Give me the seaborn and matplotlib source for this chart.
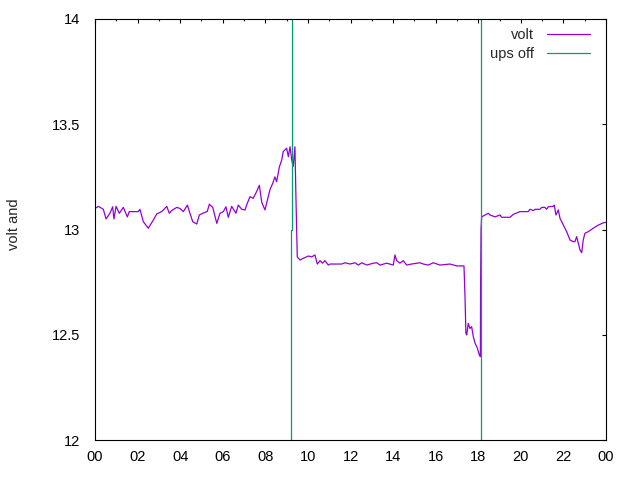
import numpy as np
import pandas as pd
import matplotlib
matplotlib.use("Agg")
import matplotlib.pyplot as plt
from matplotlib.lines import Line2D
from matplotlib.ticker import MultipleLocator, FuncFormatter
import seaborn as sns

# volt readings over the day (hour of day, volts)
hours = [0.00, 0.16, 0.39, 0.52, 0.70, 0.83, 0.89, 0.99, 1.14, 1.33, 1.52, 1.61,
         2.03, 2.11, 2.27, 2.50, 2.74, 2.90, 3.13, 3.24, 3.37, 3.49, 3.60, 3.84,
         3.99, 4.15, 4.34, 4.46, 4.59, 4.78, 4.90, 5.17, 5.27, 5.37, 5.53, 5.72,
         5.87, 6.03, 6.15, 6.26, 6.42, 6.62, 6.73, 6.89, 7.05, 7.12, 7.28, 7.43,
         7.59, 7.72, 7.83, 7.98, 8.06, 8.22, 8.35, 8.45, 8.53, 8.66, 8.77, 8.84,
         9.00, 9.08, 9.16, 9.24, 9.31, 9.39, 9.44, 9.50, 9.63, 9.78, 10.02, 10.18,
         10.33, 10.44, 10.57, 10.69, 10.80, 10.96, 11.04, 11.59, 11.74, 11.98, 12.21, 12.37,
         12.53, 12.76, 13.07, 13.23, 13.39, 13.70, 14.01, 14.09, 14.17, 14.32, 14.48, 14.64,
         14.87, 15.26, 15.42, 15.65, 15.89, 16.20, 16.67, 16.99, 17.33, 17.38, 17.42, 17.46,
         17.53, 17.61, 17.69, 17.77, 17.85, 17.96, 18.05, 18.10, 18.11, 18.13, 18.16, 18.47,
         18.55, 18.79, 19.02, 19.10, 19.49, 19.65, 19.96, 20.35, 20.43, 20.59, 20.67, 20.90,
         20.98, 21.13, 21.21, 21.29, 21.52, 21.57, 21.65, 21.76, 21.84, 22.00, 22.15, 22.31,
         22.46, 22.54, 22.62, 22.70, 22.78, 22.86, 22.93, 23.01, 23.17, 23.40, 23.64, 23.88,
         24.00]
volts = [13.100, 13.110, 13.096, 13.050, 13.077, 13.108, 13.050, 13.110, 13.077, 13.105, 13.060, 13.085,
         13.085, 13.096, 13.037, 13.006, 13.045, 13.074, 13.085, 13.096, 13.110, 13.077, 13.090, 13.105,
         13.100, 13.085, 13.116, 13.077, 13.037, 13.026, 13.069, 13.082, 13.085, 13.120, 13.105, 13.029,
         13.077, 13.085, 13.108, 13.058, 13.110, 13.077, 13.116, 13.096, 13.093, 13.116, 13.156, 13.148,
         13.180, 13.210, 13.130, 13.093, 13.124, 13.190, 13.220, 13.250, 13.227, 13.298, 13.330, 13.370,
         13.386, 13.346, 13.393, 13.330, 13.300, 13.393, 13.140, 12.870, 12.855, 12.863, 12.874, 12.870,
         12.879, 12.836, 12.852, 12.840, 12.852, 12.831, 12.836, 12.836, 12.842, 12.836, 12.842, 12.831,
         12.842, 12.831, 12.840, 12.842, 12.831, 12.840, 12.831, 12.879, 12.852, 12.840, 12.852, 12.831,
         12.836, 12.842, 12.836, 12.831, 12.842, 12.831, 12.836, 12.827, 12.827, 12.673, 12.507, 12.499,
         12.554, 12.530, 12.538, 12.490, 12.460, 12.436, 12.404, 12.396, 12.730, 13.000, 13.060, 13.077,
         13.069, 13.060, 13.069, 13.058, 13.058, 13.072, 13.085, 13.085, 13.096, 13.090, 13.096, 13.096,
         13.105, 13.105, 13.096, 13.108, 13.110, 13.116, 13.069, 13.093, 13.053, 13.021, 12.990, 12.950,
         12.942, 12.942, 12.966, 12.934, 12.903, 12.890, 12.950, 12.982, 12.990, 13.006, 13.021, 13.032,
         13.034]

# ups off markers (two events)
ups_hours = [9.22, 9.22, 9.25, 9.25, 18.11, 18.11, 18.11]
ups_volts = [11.0, 13.0, 13.0, 15.0, 15.0, 13.0, 11.0]
ups_event = [1, 1, 1, 1, 2, 2, 2]

volt_color = "#9400D3"
ups_color = "#009E73"

sns.set_style("white")
plt.rcParams["font.family"] = ["Liberation Sans", "DejaVu Sans"]

volt_df = pd.DataFrame({"hour": hours, "volt": volts})
ups_df = pd.DataFrame({"hour": ups_hours, "volt": ups_volts, "event": ups_event})

fig = plt.figure(figsize=(6.4, 4.8), dpi=100)
ax = fig.add_axes([95 / 640, 40 / 480, 511 / 640, 421 / 480])

sns.lineplot(data=volt_df, x="hour", y="volt", estimator=None, sort=False,
             color=volt_color, linewidth=0.9, ax=ax, legend=False)
sns.lineplot(data=ups_df, x="hour", y="volt", units="event", estimator=None, sort=False,
             color=ups_color, linewidth=0.9, ax=ax, legend=False)

ax.set_xlim(0, 24)
ax.set_ylim(12, 14)
ax.xaxis.set_major_locator(MultipleLocator(2))
ax.xaxis.set_minor_locator(MultipleLocator(1))
ax.xaxis.set_major_formatter(FuncFormatter(lambda v, p: "%02d" % (int(round(v)) % 24)))
ax.yaxis.set_major_locator(MultipleLocator(0.5))
ax.yaxis.set_major_formatter(FuncFormatter(lambda v, p: ("%g" % v)))

for s in ax.spines.values():
    s.set_color("black")
    s.set_linewidth(0.8)

ax.tick_params(which="major", direction="in", top=True, right=True, length=3.2,
               width=0.8, labelsize=10.5, colors="black")
ax.tick_params(which="minor", direction="in", top=True, right=True, length=1.7, width=0.8)
ax.tick_params(axis="x", which="major", pad=7.5)
ax.tick_params(axis="y", which="major", pad=10.8)

ax.set_xlabel("")
ax.set_ylabel("volt and", fontsize=10.5)
ax.yaxis.set_label_coords(-0.145, 0.513)

handles = [Line2D([], [], color=volt_color, lw=0.9),
           Line2D([], [], color=ups_color, lw=0.9)]
ax.legend(handles, ["volt", "ups off"], loc="upper right", frameon=False,
          markerfirst=False, fontsize=10.5, handlelength=3.0, handletextpad=0.9,
          labelspacing=0.35, borderaxespad=0.0, bbox_to_anchor=(0.981, 0.993))

fig.savefig("out.png", dpi=100)
